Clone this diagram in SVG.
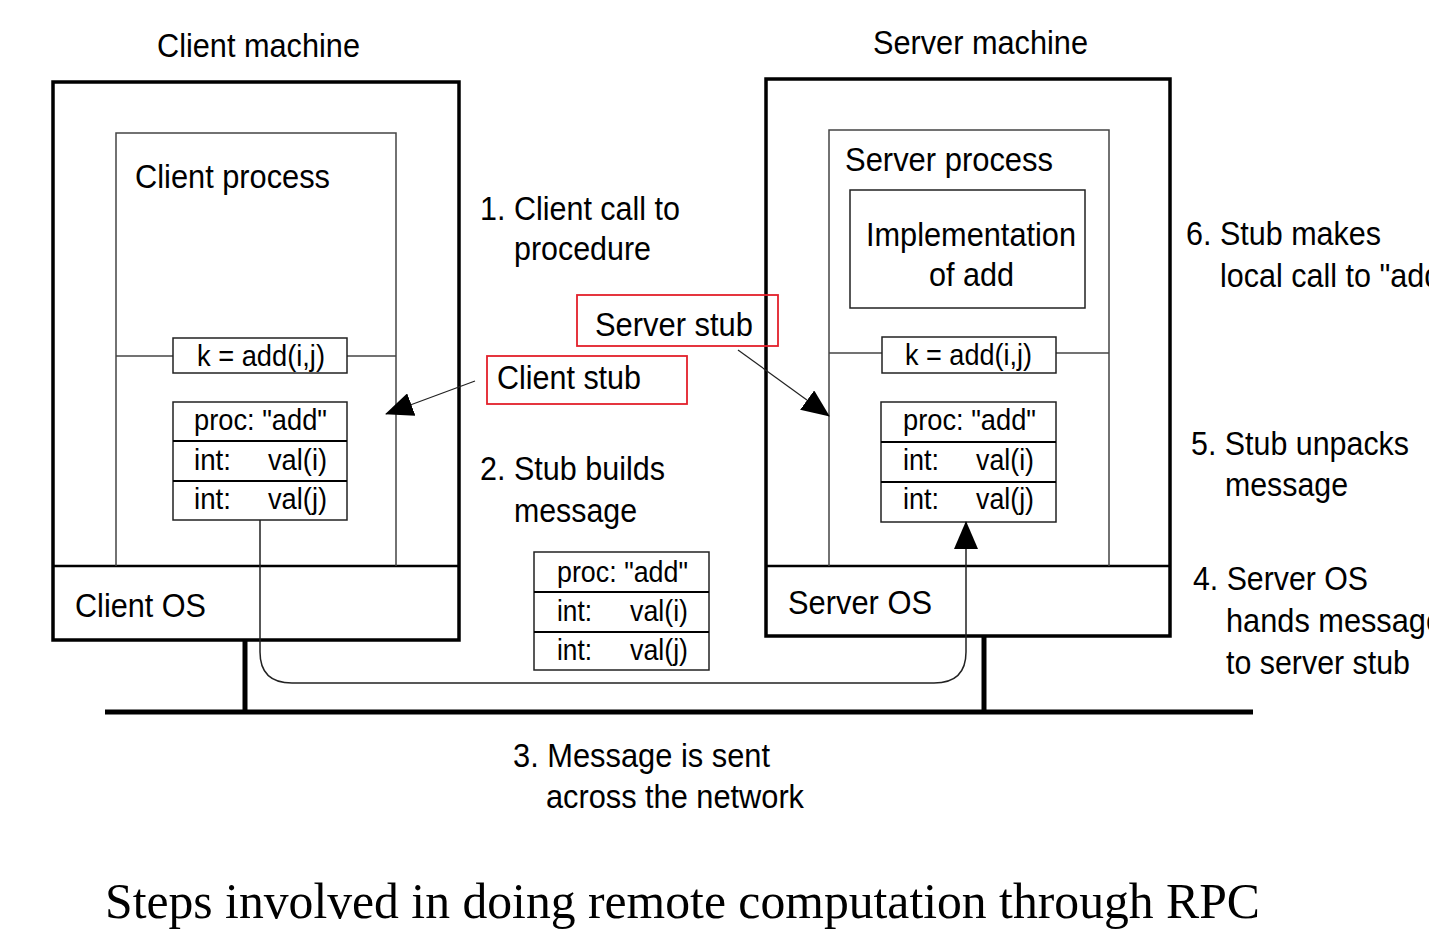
<svg xmlns="http://www.w3.org/2000/svg" width="1429" height="933" viewBox="0 0 1429 933">
<style>
text{font-family:"Liberation Sans",Arial,sans-serif;fill:#000}
.l{font-size:33px}
.t{font-size:30px}
.cap{font-family:"Liberation Serif","Times New Roman",serif;font-size:51px}
.outer{fill:none;stroke:#000;stroke-width:3.5}
.proc{fill:none;stroke:#444;stroke-width:1.5}
.os{stroke:#000;stroke-width:2.5;fill:none}
.box{fill:#fff;stroke:#222;stroke-width:1.5}
.row{stroke:#000;stroke-width:2}
.red{fill:none;stroke:#e3202b;stroke-width:1.8}
.net{stroke:#000;stroke-width:5;fill:none}
.thin{stroke:#222;stroke-width:1.2;fill:none}
.msg{stroke:#222;stroke-width:1.5;fill:none}
</style>
<defs>
<marker id="ah" viewBox="0 0 28 24" refX="27" refY="12" markerWidth="28" markerHeight="24" markerUnits="userSpaceOnUse" orient="auto">
<path d="M0,0 L28,12 L0,24 Z" fill="#000"/>
</marker>
</defs>
<rect width="1429" height="933" fill="#fff"/>

<g id="network">
<line class="net" x1="105" y1="712" x2="1253" y2="712"/>
<line class="net" x1="245" y1="640" x2="245" y2="712"/>
<line class="net" x1="984" y1="636" x2="984" y2="712"/>
</g>

<g id="client-machine">
<text class="l" x="157" y="57" textLength="203" lengthAdjust="spacingAndGlyphs">Client machine</text>
<rect class="outer" x="53" y="82" width="406" height="558"/>
<line class="os" x1="53" y1="566" x2="459" y2="566"/>
<text class="l" x="75" y="617" textLength="131" lengthAdjust="spacingAndGlyphs">Client OS</text>
</g>

<g id="client-process">
<polyline class="proc" points="116,566 116,133 396,133 396,566"/>
<text class="l" x="135" y="188" textLength="195" lengthAdjust="spacingAndGlyphs">Client process</text>
<line class="proc" x1="116" y1="356" x2="173" y2="356"/>
<line class="proc" x1="347" y1="356" x2="396" y2="356"/>
</g>

<g id="client-call">
<rect class="box" x="173" y="338" width="174" height="35"/>
<text class="t" x="197" y="366" textLength="128" lengthAdjust="spacingAndGlyphs">k = add(i,j)</text>
</g>

<g id="client-message">
<rect class="box" x="173" y="402" width="174" height="118"/>
<line class="row" x1="173" y1="441" x2="347" y2="441"/>
<line class="row" x1="173" y1="481" x2="347" y2="481"/>
<text class="t" x="194" y="430" textLength="133" lengthAdjust="spacingAndGlyphs">proc: "add"</text>
<text class="t" x="194" y="470" textLength="37" lengthAdjust="spacingAndGlyphs">int:</text>
<text class="t" x="268" y="470" textLength="59" lengthAdjust="spacingAndGlyphs">val(i)</text>
<text class="t" x="194" y="509" textLength="37" lengthAdjust="spacingAndGlyphs">int:</text>
<text class="t" x="268" y="509" textLength="59" lengthAdjust="spacingAndGlyphs">val(j)</text>
</g>

<g id="server-machine">
<text class="l" x="873" y="54" textLength="215" lengthAdjust="spacingAndGlyphs">Server machine</text>
<rect class="outer" x="766" y="79" width="404" height="557"/>
<line class="os" x1="766" y1="566" x2="1170" y2="566"/>
<text class="l" x="788" y="614" textLength="144" lengthAdjust="spacingAndGlyphs">Server OS</text>
</g>

<g id="server-process">
<polyline class="proc" points="829,566 829,130 1109,130 1109,566"/>
<text class="l" x="845" y="171" textLength="208" lengthAdjust="spacingAndGlyphs">Server process</text>
<line class="proc" x1="829" y1="353" x2="882" y2="353"/>
<line class="proc" x1="1056" y1="353" x2="1109" y2="353"/>
</g>

<g id="implementation">
<rect class="box" x="850" y="190" width="235" height="118"/>
<text class="l" x="866" y="246" textLength="210" lengthAdjust="spacingAndGlyphs">Implementation</text>
<text class="l" x="929" y="286" textLength="85" lengthAdjust="spacingAndGlyphs">of add</text>
</g>

<g id="server-call">
<rect class="box" x="882" y="337" width="174" height="36"/>
<text class="t" x="905" y="365" textLength="127" lengthAdjust="spacingAndGlyphs">k = add(i,j)</text>
</g>

<g id="server-message">
<rect class="box" x="881" y="402" width="175" height="120"/>
<line class="row" x1="881" y1="442" x2="1056" y2="442"/>
<line class="row" x1="881" y1="482" x2="1056" y2="482"/>
<text class="t" x="903" y="430" textLength="133" lengthAdjust="spacingAndGlyphs">proc: "add"</text>
<text class="t" x="903" y="470" textLength="36" lengthAdjust="spacingAndGlyphs">int:</text>
<text class="t" x="976" y="470" textLength="58" lengthAdjust="spacingAndGlyphs">val(i)</text>
<text class="t" x="903" y="509" textLength="36" lengthAdjust="spacingAndGlyphs">int:</text>
<text class="t" x="976" y="509" textLength="58" lengthAdjust="spacingAndGlyphs">val(j)</text>
</g>

<g id="transit-message">
<rect class="box" x="534" y="552" width="175" height="118"/>
<line class="row" x1="534" y1="592" x2="709" y2="592"/>
<line class="row" x1="534" y1="632" x2="709" y2="632"/>
<text class="t" x="557" y="582" textLength="131" lengthAdjust="spacingAndGlyphs">proc: "add"</text>
<text class="t" x="557" y="621" textLength="35" lengthAdjust="spacingAndGlyphs">int:</text>
<text class="t" x="630" y="621" textLength="58" lengthAdjust="spacingAndGlyphs">val(i)</text>
<text class="t" x="557" y="660" textLength="35" lengthAdjust="spacingAndGlyphs">int:</text>
<text class="t" x="630" y="660" textLength="58" lengthAdjust="spacingAndGlyphs">val(j)</text>
</g>

<g id="client-stub">
<rect class="red" x="487" y="356" width="200" height="48"/>
<text class="l" x="497" y="389" textLength="144" lengthAdjust="spacingAndGlyphs">Client stub</text>
</g>

<g id="server-stub">
<rect class="red" x="577" y="295" width="201" height="51"/>
<text class="l" x="595" y="336" textLength="158" lengthAdjust="spacingAndGlyphs">Server stub</text>
</g>

<g id="steps">
<text class="l" x="480" y="220" textLength="200" lengthAdjust="spacingAndGlyphs">1. Client call to</text>
<text class="l" x="514" y="260" textLength="137" lengthAdjust="spacingAndGlyphs">procedure</text>
<text class="l" x="480" y="480" textLength="185" lengthAdjust="spacingAndGlyphs">2. Stub builds</text>
<text class="l" x="514" y="522" textLength="123" lengthAdjust="spacingAndGlyphs">message</text>
<text class="l" x="513" y="767" textLength="257" lengthAdjust="spacingAndGlyphs">3. Message is sent</text>
<text class="l" x="546" y="808" textLength="258" lengthAdjust="spacingAndGlyphs">across the network</text>
<text class="l" x="1186" y="245" textLength="195" lengthAdjust="spacingAndGlyphs">6. Stub makes</text>
<text class="l" x="1220" y="287" textLength="232" lengthAdjust="spacingAndGlyphs">local call to "add"</text>
<text class="l" x="1191" y="455" textLength="218" lengthAdjust="spacingAndGlyphs">5. Stub unpacks</text>
<text class="l" x="1225" y="496" textLength="123" lengthAdjust="spacingAndGlyphs">message</text>
<text class="l" x="1193" y="590" textLength="175" lengthAdjust="spacingAndGlyphs">4. Server OS</text>
<text class="l" x="1226" y="632" textLength="217" lengthAdjust="spacingAndGlyphs">hands message</text>
<text class="l" x="1226" y="674" textLength="184" lengthAdjust="spacingAndGlyphs">to server stub</text>
</g>

<g id="connectors">
<line class="thin" x1="475" y1="381" x2="386" y2="414" marker-end="url(#ah)"/>
<line class="thin" x1="738" y1="350" x2="829" y2="416" marker-end="url(#ah)"/>
<path class="msg" d="M260,520 L260,652 Q260,683 292,683 L934,683 Q966,683 966,652 L966,522" marker-end="url(#ah)"/>
</g>

<text class="cap" x="105" y="918" textLength="1155" lengthAdjust="spacingAndGlyphs">Steps involved in doing remote computation through RPC</text>
</svg>
